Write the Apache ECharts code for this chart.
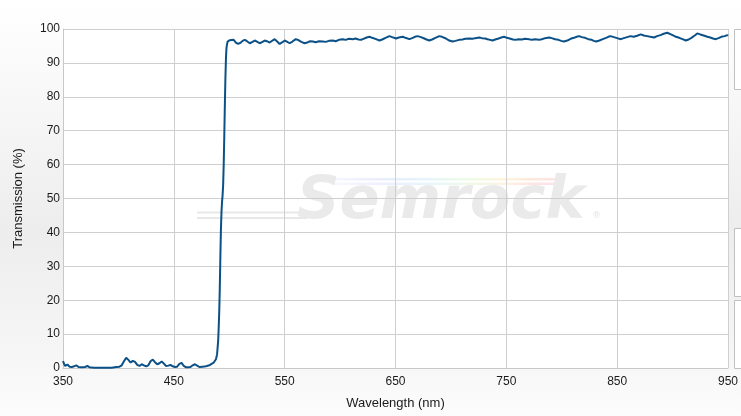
<!DOCTYPE html>
<html>
<head>
<meta charset="utf-8">
<script src="https://cdn.jsdelivr.net/npm/echarts@6/dist/echarts.min.js"></script>
<style>html,body{margin:0;padding:0;}#c{width:741px;height:416px;}</style>
</head>
<body>
<div id="c"></div>
<script>
// ---- data ----
const wavelengths = [
  350,351,352,354,356,358,360,362,364,367,370,372,374,378,382,386,390,394,398,401,
  403,405,407,409,411,413,415,417,419,421,423,425,427,429,431,433,435,437,439,441,
  443,445,447,449,451,453,455,457,459,461,463,465,467,469,471,473,476,479,482,484,
  486,488,489,490,490.5,491,491.5,492,492.5,493,493.5,494,494.5,495,495.5,496,496.5,497,497.5,498.5,499.5,
  500.5,502,504,506,508,510,512,514,516,518.5,521,523,525,527.5,530,532,534,536.5,539,541,
  543,545.5,548,550,552,554.5,557,560,562,565,568,571,573,575.5,578,581,584.5,587,590,593.5,
  596,599,602.5,605,608,611.5,614,616.5,619,621,624,626.5,629,632.5,635.5,638,641,644.5,647,650.5,
  653,656.5,659,662.5,665,667.5,670,673,676,678,680.5,683,686,689.5,692,695.5,698.5,701.5,704,707.5,
  710.5,713,716.5,719.5,722,725.5,728,731,733,735.5,737.5,740,743,745.5,748,750.5,753,756,758.5,761,
  764,767,770.5,773,776,779.5,782,785,788.5,791,794,797,799.5,802,805,808,811,813.5,815.8,818,
  821,824,827,829,831,834,837,840,842,844,847,850,853.3,856,859,862,865,868,871.3,874,
  877,880,883.3,886,889,892,895.3,898,900.5,903,906,909,912,914.5,917,920,922.3,925,928,931.4,
  934,936.5,939,941.5,944,947,949.4,950
];
const transmission = [
  2.0,1.2,0.6,1.0,0.4,0.3,0.5,0.8,0.3,0.2,0.3,0.6,0.2,0.1,0.1,0.1,0.1,0.1,0.3,0.4,
  0.8,2.0,3.0,2.4,1.6,2.1,1.8,0.9,0.6,1.1,0.8,0.5,0.8,2.0,2.5,1.7,1.1,1.4,1.9,1.3,
  0.6,0.7,0.9,0.5,0.3,0.4,1.2,1.5,0.6,0.2,0.2,0.3,0.8,1.1,0.7,0.3,0.4,0.5,0.8,1.2,
  1.6,2.6,4,8,12,17,24,33,41,46,49,51,54,60,68,77,85,91,94.5,96.3,96.8,
  96.7,96.9,96.8,96.0,95.6,95.9,96.5,96.8,96.4,95.8,96.2,96.6,96.3,95.8,96.2,96.6,96.4,96.0,96.6,97.0,
  96.4,95.6,96.1,96.6,96.3,95.8,96.3,97.0,96.8,96.2,95.8,96.1,96.4,96.3,96.1,96.4,96.3,96.2,96.5,96.6,
  96.4,96.8,97.0,96.8,97.1,97.0,97.2,96.9,96.8,97.1,97.5,97.7,97.4,97.0,96.6,96.9,97.4,97.9,97.6,97.2,
  97.5,97.7,97.4,97.0,97.3,97.7,97.9,97.6,97.2,96.9,96.6,96.9,97.4,97.9,97.7,97.2,96.6,96.3,96.5,96.8,
  96.9,97.1,97.2,97.1,97.3,97.5,97.3,97.2,97.0,96.8,96.6,96.9,97.2,97.5,97.7,97.4,97.2,96.9,96.8,97.0,
  96.9,97.1,97.0,96.8,97.0,96.8,97.0,97.3,97.5,97.3,97.0,96.8,96.5,96.3,96.6,97.1,97.4,97.7,97.9,97.6,
  97.4,97.0,96.8,96.5,96.3,96.6,97.0,97.4,97.7,97.9,97.6,97.3,97.0,97.3,97.6,97.9,97.7,98.0,98.4,98.1,
  97.9,97.7,97.5,97.9,98.2,98.6,98.9,98.5,98.1,97.7,97.4,97.0,96.6,96.9,97.4,98.1,98.7,98.4,98.1,97.7,
  97.5,97.2,97.0,97.3,97.7,97.9,98.2,98.0
];
const xStart = 350;            // first wavelength tick
const xTicks = [350, 450, 550, 650, 750, 850, 950];
const yTicks = [0, 10, 20, 30, 40, 50, 60, 70, 80, 90, 100];

// ---- chart ----
const seriesData = wavelengths.map((w, i) => [w - xStart, transmission[i]]);
const chart = echarts.init(document.getElementById('c'), null, {renderer: 'canvas'});
const txt = '#1a1a1a';
const font = 'Liberation Sans, Arial, sans-serif';

chart.setOption({
  animation: false,
  backgroundColor: {
    type: 'linear', x: 0, y: 0, x2: 0, y2: 1,
    colorStops: [
      {offset: 0, color: '#ffffff'},
      {offset: 0.2, color: '#f9f9f9'},
      {offset: 0.55, color: '#ededed'},
      {offset: 0.85, color: '#f6f6f6'},
      {offset: 1, color: '#fcfcfc'}
    ]
  },
  grid: {left: 63, right: 12, top: 29, bottom: 48, show: true, backgroundColor: '#ffffff', borderWidth: 0, z: 0},
  xAxis: {
    type: 'value', min: 0, max: xTicks[xTicks.length - 1] - xStart, interval: xTicks[1] - xTicks[0], z: 3,
    name: 'Wavelength (nm)', nameLocation: 'middle', nameGap: 29,
    nameTextStyle: {color: txt, fontSize: 13, fontFamily: font},
    axisLine: {show: true, lineStyle: {color: '#c8c8c8', width: 1}},
    axisTick: {show: false},
    axisLabel: {color: txt, fontSize: 12, fontFamily: font, margin: 8, formatter: v => String(v + xStart)},
    splitLine: {show: true, lineStyle: {color: '#cfcfcf', width: 1}}
  },
  yAxis: {
    type: 'value', min: yTicks[0], max: yTicks[yTicks.length - 1], interval: yTicks[1] - yTicks[0], z: 3,
    name: 'Transmission (%)', nameLocation: 'middle', nameGap: 38,
    nameTextStyle: {color: txt, fontSize: 13, fontFamily: font},
    axisLine: {show: true, lineStyle: {color: '#c8c8c8', width: 1}},
    axisTick: {show: false},
    axisLabel: {color: txt, fontSize: 12, fontFamily: font, margin: 3},
    splitLine: {show: true, lineStyle: {color: '#cfcfcf', width: 1}}
  },
  graphic: [
    // watermark swoosh lines
    {type: 'rect', z: 1, silent: true, shape: {x: 197, y: 211.5, width: 115, height: 2}, style: {fill: '#e8e8e8'}},
    {type: 'rect', z: 1, silent: true, shape: {x: 197, y: 217, width: 110, height: 2}, style: {fill: '#e8e8e8'}},
    // rainbow stripes
    {type: 'rect', z: 1, silent: true, shape: {x: 327, y: 178, width: 232, height: 2.5},
      style: {fill: {type: 'linear', x: 0, y: 0, x2: 1, y2: 0, colorStops: [
        {offset: 0, color: 'rgba(230,230,250,0.3)'}, {offset: 0.25, color: '#e8ecfc'},
        {offset: 0.45, color: '#e4f6fa'}, {offset: 0.6, color: '#eefbe6'},
        {offset: 0.75, color: '#fdf6dc'}, {offset: 0.9, color: '#fde6dc'}, {offset: 1, color: '#fce4e4'}]}}},
    {type: 'rect', z: 1, silent: true, shape: {x: 330, y: 182.5, width: 229, height: 2.5},
      style: {fill: {type: 'linear', x: 0, y: 0, x2: 1, y2: 0, colorStops: [
        {offset: 0, color: 'rgba(235,235,252,0.3)'}, {offset: 0.25, color: '#ecefff'},
        {offset: 0.45, color: '#e8f6fb'}, {offset: 0.6, color: '#f0fae9'},
        {offset: 0.75, color: '#fdf3e4'}, {offset: 0.9, color: '#fde4e4'}, {offset: 1, color: '#fbe2e8'}]}}},
    // watermark text
    {type: 'text', z: 1, silent: true, x: 297, y: 203,
      style: {text: 'Semrock', fill: '#eaeaea', font: 'italic bold 59px "DejaVu Sans", sans-serif', verticalAlign: 'middle', align: 'left'}},
    {type: 'text', z: 1, silent: true, x: 592, y: 216,
      style: {text: '\u00AE', fill: '#e4e4e4', font: '9px "DejaVu Sans", sans-serif', verticalAlign: 'middle', align: 'left'}},
    // clipped side panels on the right
    {type: 'rect', z: 1, silent: true, shape: {x: 734.5, y: 29.5, width: 20, height: 60}, style: {fill: '#ffffff', stroke: '#c0c0c0', lineWidth: 1}},
    {type: 'rect', z: 1, silent: true, shape: {x: 734.5, y: 228.5, width: 20, height: 68}, style: {fill: '#ffffff', stroke: '#c0c0c0', lineWidth: 1}},
    {type: 'rect', z: 1, silent: true, shape: {x: 734.5, y: 300.5, width: 20, height: 68}, style: {fill: '#ffffff', stroke: '#c0c0c0', lineWidth: 1}}
  ],
  series: [{
    type: 'line', z: 5, data: seriesData, showSymbol: false, symbol: 'none', smooth: false,
    lineStyle: {color: '#0b5187', width: 2}, clip: true
  }]
});
</script>
</body>
</html>
